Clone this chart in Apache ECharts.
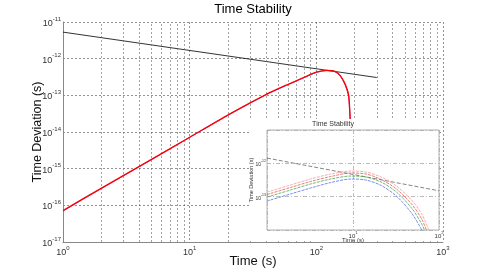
<!DOCTYPE html>
<html><head><meta charset="utf-8">
<script src="https://cdn.jsdelivr.net/npm/echarts@6/dist/echarts.min.js"></script>
<style>html,body{margin:0;padding:0;background:#fff}#c{width:491px;height:273px}</style>
</head><body><div id="c"></div>
<script>
// ---- main chart data ----
const mainTau   = [1, 2, 5, 10, 20, 40, 60, 80, 100, 120, 140, 155, 170, 180, 185];
const mainRed   = [7.2e-17, 2.9e-16, 1.8e-15, 7.2e-15, 2.9e-14, 1.05e-13, 2.0e-13, 3.1e-13, 4.3e-13, 4.8e-13, 4.5e-13, 3.4e-13, 1.9e-13, 9.8e-14, 2.2e-14];
const mainBlue  = [7.0e-17, 2.85e-16, 1.77e-15, 7.1e-15, 2.85e-14, 1.03e-13, 1.97e-13, 3.05e-13, 4.2e-13, 4.7e-13, 4.4e-13, 3.35e-13, 1.87e-13, 9.6e-14, 2.2e-14];
const mainBlackTau = [1, 300];
const mainBlack    = [5.3e-12, 3.06e-13];
const mainXTicks = [1, 10, 100, 1000];
const mainYTicks = [1e-17, 1e-16, 1e-15, 1e-14, 1e-13, 1e-12, 1e-11];
// ---- inset data ----
const insetTau   = [1, 1.87, 3.2, 5.5, 9.5, 14.2, 21.3, 32, 48, 63, 76];
const insetRed   = [1.37e-13, 2.23e-13, 3.38e-13, 4.77e-13, 5.87e-13, 5.48e-13, 3.88e-13, 2.08e-13, 7.9e-14, 3.0e-14, 1.0e-14];
const insetPink  = [1.16e-13, 1.88e-13, 2.84e-13, 4.02e-13, 5.12e-13, 4.77e-13, 3.26e-13, 1.69e-13, 6.0e-14, 2.12e-14, 6.5e-15];
const insetGreen = [9.7e-14, 1.58e-13, 2.39e-13, 3.38e-13, 4.16e-13, 3.88e-13, 2.74e-13, 1.37e-13, 4.55e-14, 1.5e-14, 5.0e-15];
const insetBlue  = [7.4e-14, 1.2e-13, 1.81e-13, 2.65e-13, 3.38e-13, 3.15e-13, 2.16e-13, 1.04e-13, 3.2e-14, 1.0e-14, 3.5e-15];
const insetBlackTau = [1, 100];
const insetBlack    = [1.44e-12, 1.5e-13];

const zip = (a, b) => a.map((v, i) => [v, b[i]]);
const FONT = 'Liberation Sans, Arial, sans-serif';
function supFmt(v) { const e = Math.round(Math.log10(v)); return '{b|10}{e|' + e + '}'; }
function rich(bs, es) {
  return {
    b: { fontSize: bs, color: '#333', fontFamily: FONT, verticalAlign: 'bottom' },
    e: { fontSize: es, color: '#333', fontFamily: FONT, verticalAlign: 'bottom', padding: [0, 0, Math.round(bs * 0.7), 0] }
  };
}
// minor grid positions (2..9 per decade)
const xMinor = [], yMinor = [];
for (let i = 0; i < mainXTicks.length - 1; i++) for (let k = 2; k <= 9; k++) xMinor.push(mainXTicks[i] * k);
for (let i = 0; i < mainYTicks.length - 1; i++) for (let k = 2; k <= 9; k++) yMinor.push(mainYTicks[i] * k);

const chart = echarts.init(document.getElementById('c'), null, { renderer: 'canvas' });
const gridLine = { show: true, lineStyle: { color: '#666', type: [2, 2], width: 0.7 } };
chart.setOption({
  animation: false,
  backgroundColor: '#fff',
  textStyle: { fontFamily: FONT },
  grid: [
    { left: 63, right: 48, top: 22, bottom: 30, show: false },
    { left: 267, top: 130, width: 172, height: 100, show: true, borderColor: '#b0b0b0', borderWidth: 1, backgroundColor: '#fff', z: 11 }
  ],
  xAxis: [
    { type: 'log', gridIndex: 0, min: 1, max: 1000, interval: 1, logBase: 10,
      name: 'Time (s)', nameLocation: 'middle', nameGap: 13, nameMoveOverlap: false,
      nameTextStyle: { fontSize: 13, color: '#111', fontFamily: FONT, verticalAlign: 'top' },
      axisLine: { show: true, lineStyle: { color: '#888', width: 1 } },
      axisTick: { show: false },
      axisLabel: { formatter: supFmt, rich: rich(9, 6), margin: 3 },
      splitLine: gridLine },
    { type: 'log', gridIndex: 1, min: 1, max: 100, interval: 1, logBase: 10, z: 12,
      name: 'Time (s)', nameLocation: 'middle', nameGap: 7, nameMoveOverlap: false,
      nameTextStyle: { fontSize: 6, color: '#333', fontFamily: FONT, verticalAlign: 'top' },
      axisLine: { show: false }, axisTick: { show: false },
      axisLabel: { formatter: supFmt, rich: rich(6, 4), margin: 1, showMinLabel: false },
      splitLine: { show: true, lineStyle: { color: '#aaa', type: [4, 2, 1, 2], width: 0.8 } } }
  ],
  yAxis: [
    { type: 'log', gridIndex: 0, min: 1e-17, max: 1e-11, interval: 1, logBase: 10,
      name: 'Time Deviation (s)', nameLocation: 'middle', nameGap: 19, nameRotate: 90, nameMoveOverlap: false,
      nameTextStyle: { fontSize: 12.5, color: '#111', fontFamily: FONT },
      axisLine: { show: true, lineStyle: { color: '#888', width: 1 } },
      axisTick: { show: false },
      axisLabel: { formatter: supFmt, rich: rich(9, 6), margin: 2 },
      splitLine: gridLine },
    { type: 'log', gridIndex: 1, min: 1e-14, max: 1e-11, interval: 1, logBase: 10, z: 12,
      name: 'Time Deviation (s)', nameLocation: 'middle', nameGap: 13, nameRotate: 90, nameMoveOverlap: false,
      nameTextStyle: { fontSize: 5.5, color: '#333', fontFamily: FONT },
      axisLine: { show: false }, axisTick: { show: false },
      axisLabel: { formatter: supFmt, rich: rich(5, 3.5), margin: 1, showMinLabel: false, showMaxLabel: false },
      splitLine: { show: true, lineStyle: { color: '#aaa', type: [4, 2, 1, 2], width: 0.8 } } }
  ],
  graphic: [
    { type: 'text', z: 20, style: { text: 'Time Stability', x: 253, y: 3, textAlign: 'center', fontSize: 13, fontFamily: FONT, fill: '#000' } },
    { type: 'rect', z: 10, shape: { x: 249, y: 119, width: 190, height: 122 }, style: { fill: '#fff' } },
    { type: 'text', z: 20, style: { text: 'Time Stability', x: 333, y: 121, textAlign: 'center', fontSize: 7, fontFamily: FONT, fill: '#333' } }
  ],
  series: [
    { type: 'line', xAxisIndex: 0, yAxisIndex: 0, data: [[1, 1e-17]], symbol: 'none', lineStyle: { opacity: 0 }, silent: true, z: 1,
      markLine: { silent: true, symbol: 'none', label: { show: false }, animation: false,
        lineStyle: { color: '#666', type: [2, 2], width: 0.6 },
        data: xMinor.map(v => ({ xAxis: v })).concat(yMinor.map(v => ({ yAxis: v }))) } },
    { type: 'line', xAxisIndex: 0, yAxisIndex: 0, data: zip(mainBlackTau, mainBlack), symbol: 'none', lineStyle: { color: '#000', width: 0.8 }, z: 3 },
    { type: 'line', xAxisIndex: 0, yAxisIndex: 0, data: zip(mainTau, mainBlue), symbol: 'none', smooth: 0.2, lineStyle: { color: '#3344ff', width: 0.8 }, z: 4 },
    { type: 'line', xAxisIndex: 0, yAxisIndex: 0, data: zip(mainTau, mainRed), symbol: 'none', smooth: 0.2, lineStyle: { color: '#ff0000', width: 1.4 }, z: 5 },
    { type: 'line', xAxisIndex: 1, yAxisIndex: 1, data: zip(insetBlackTau, insetBlack), symbol: 'none', lineStyle: { color: '#666', width: 0.8, type: [4, 2] }, z: 13 },
    { type: 'line', xAxisIndex: 1, yAxisIndex: 1, data: zip(insetTau, insetBlue), symbol: 'none', smooth: 0.3, lineStyle: { color: '#5a6cf0', width: 0.8, type: [3, 1] }, z: 13 },
    { type: 'line', xAxisIndex: 1, yAxisIndex: 1, data: zip(insetTau, insetGreen), symbol: 'none', smooth: 0.3, lineStyle: { color: '#4aa84a', width: 0.8, type: [3, 1] }, z: 13 },
    { type: 'line', xAxisIndex: 1, yAxisIndex: 1, data: zip(insetTau, insetPink), symbol: 'none', smooth: 0.3, lineStyle: { color: '#e05a5a', width: 0.8, type: [3, 1] }, z: 13 },
    { type: 'line', xAxisIndex: 1, yAxisIndex: 1, data: zip(insetTau, insetRed), symbol: 'none', smooth: 0.3, lineStyle: { color: '#f29a9a', width: 0.8, type: [3, 1] }, z: 13 }
  ]
});
</script></body></html>
